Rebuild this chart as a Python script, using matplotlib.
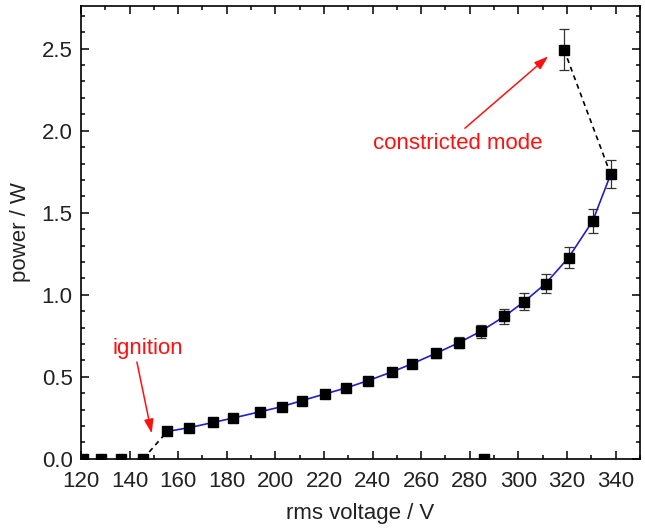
import numpy as np
import matplotlib
matplotlib.use("Agg")
import matplotlib.pyplot as plt
from matplotlib.ticker import MultipleLocator

plt.rcParams['font.family'] = ['Liberation Sans', 'DejaVu Sans']

# points before ignition (power ~ 0)
v_off = [121.0, 128.1, 136.5, 145.6, 285.8]
p_off = [0.0, 0.0, 0.0, 0.0, 0.0]

# glow discharge branch
v_on = [155.5, 164.6, 174.4, 182.7, 193.7, 202.6, 210.9, 220.3, 229.1, 238.2,
        248.0, 256.2, 266.2, 275.7, 284.6, 294.2, 302.4, 311.2, 320.7, 330.6, 338.0]
p_on = [0.167, 0.190, 0.222, 0.249, 0.287, 0.318, 0.355, 0.395, 0.432, 0.477,
        0.530, 0.579, 0.644, 0.709, 0.778, 0.868, 0.958, 1.068, 1.227, 1.450, 1.734]
err_on = [0.010, 0.012, 0.012, 0.014, 0.015, 0.015, 0.016, 0.018, 0.018, 0.020,
          0.022, 0.025, 0.028, 0.035, 0.040, 0.045, 0.050, 0.058, 0.063, 0.072, 0.085]

# constricted mode point
v_con = [318.8]
p_con = [2.494]
err_con = [0.126]

fs = 16
red = '#ff1010'

fig = plt.figure(figsize=(6.45, 5.28), dpi=100)
ax = fig.add_axes([0.1256, 0.131, 0.8664, 0.8576])

# blue fit through the glow branch
ax.plot(v_on, p_on, color='#1f1fd0', lw=1.2, zorder=2)
# dashed jumps
ax.plot([v_off[3], v_on[0]], [p_off[3], p_on[0]], 'k--', lw=1.2, dashes=(3, 2.5), zorder=2)
ax.plot([v_con[0], v_on[-1]], [p_con[0], p_on[-1]], 'k--', lw=1.2, dashes=(3, 2.5), zorder=2)

ax.errorbar(v_on, p_on, yerr=err_on, fmt='s', color='black', ms=7.5,
            ecolor='#333333', elinewidth=0.9, capsize=3.5, capthick=0.9, zorder=3)
ax.errorbar(v_con, p_con, yerr=err_con, fmt='s', color='black', ms=7.5,
            ecolor='#333333', elinewidth=0.9, capsize=3.5, capthick=0.9, zorder=3)
ax.plot(v_off, p_off, 's', color='black', ms=7.5, zorder=3, clip_on=True)

ax.set_xlim(120, 350)
ax.set_ylim(0, 2.76)
ax.xaxis.set_major_locator(MultipleLocator(20))
ax.xaxis.set_minor_locator(MultipleLocator(10))
ax.yaxis.set_major_locator(MultipleLocator(0.5))
ax.yaxis.set_minor_locator(MultipleLocator(0.1))
ax.yaxis.set_major_formatter(matplotlib.ticker.FormatStrFormatter('%.1f'))
ax.tick_params(which='both', direction='in', top=True, right=True, labelsize=fs,
               width=1.1, labelcolor='#222222')
ax.tick_params(which='major', length=6)
ax.tick_params(which='minor', length=3)
ax.tick_params(axis='x', pad=9)
ax.tick_params(axis='y', pad=6)
for s in ax.spines.values():
    s.set_linewidth(1.2)

ax.set_xlabel('rms voltage / V', fontsize=fs, color='#222222', labelpad=8)
ax.set_ylabel('power / W', fontsize=fs, color='#222222', labelpad=8)

ax.text(147.5, 0.67, 'ignition', color=red, fontsize=fs, ha='center', va='center')
ax.annotate('', xy=(149.1, 0.155), xytext=(143.0, 0.59),
            arrowprops=dict(arrowstyle='-|>,head_length=0.6,head_width=0.2', color=red,
                            lw=1.1, shrinkA=0, shrinkB=0, mutation_scale=14))
ax.text(275, 1.925, 'constricted mode', color=red, fontsize=fs, ha='center', va='center')
ax.annotate('', xy=(312.3, 2.453), xytext=(278.0, 2.015),
            arrowprops=dict(arrowstyle='-|>,head_length=0.6,head_width=0.2', color=red,
                            lw=1.1, shrinkA=0, shrinkB=0, mutation_scale=14))

fig.savefig('out.png', dpi=100)
